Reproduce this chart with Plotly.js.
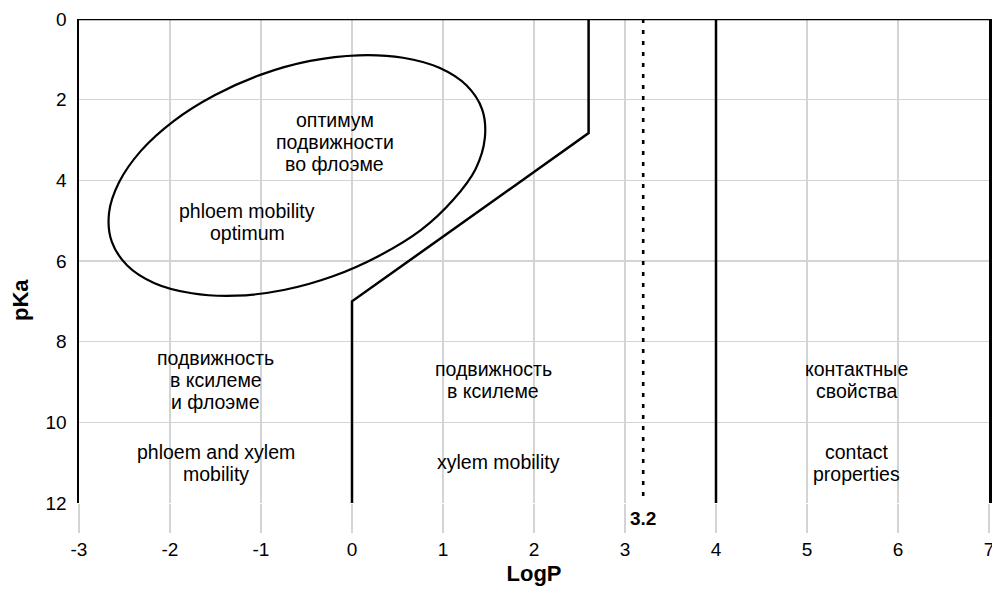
<!DOCTYPE html>
<html>
<head>
<meta charset="utf-8">
<script src="https://cdn.plot.ly/plotly-3.0.1.min.js"></script>
<style>html,body{margin:0;padding:0;background:#fff;}#chart{width:992px;height:591px;}</style>
</head>
<body>
<div id="chart"></div>
<script>
// ---- data ----
const xTickVals = [-3, -2, -1, 0, 1, 2, 3, 4, 5, 6, 7];
const yTickVals = [0, 2, 4, 6, 8, 10, 12];

// xylem / phloem boundary (LogP, pKa)
const boundaryLogP = [2.6, 2.6, 0, 0];
const boundaryPKa  = [0, 2.83, 7, 12];

// contact properties boundary
const contactLogP = [4, 4];
const contactPKa  = [0, 12];

// LogP = 3.2 threshold (dotted)
const thresholdLogP = [3.2, 3.2];
const thresholdPKa  = [0, 12];

// phloem mobility optimum contour (closed)
const optimumLogP = [1.43, 1.46, 1.36, 1.11, 0.76, 0.30, -0.21, -0.75, -1.28, -1.76, -2.17, -2.47,
                     -2.64, -2.67, -2.56, -2.32, -1.96, -1.51, -1.00, -0.46, 0.07, 0.56, 0.96, 1.26, 1.43];
const optimumPKa  = [2.24, 2.95, 3.71, 4.49, 5.23, 5.87, 6.38, 6.72, 6.86, 6.80, 6.55, 6.11,
                     5.52, 4.81, 4.05, 3.27, 2.53, 1.89, 1.38, 1.04, 0.90, 0.96, 1.21, 1.65, 2.24];

// region labels (one entry per label, lines listed top to bottom)
const labelLines = [
  ["оптимум", "подвижности", "во флоэме"],
  ["phloem mobility", "optimum"],
  ["подвижность", "в ксилеме", "и флоэме"],
  ["phloem and xylem", "mobility"],
  ["подвижность", "в ксилеме"],
  ["xylem mobility"],
  ["контактные", "свойства"],
  ["contact", "properties"]
];
const labelLogP = [-0.19, -1.15, -1.5, -1.5, 1.55, 1.61, 5.54, 5.54];
const labelPKa  = [3.05, 5.03, 8.95, 11.0, 8.95, 10.98, 8.95, 11.0];

const thresholdLabel = "3.2";
const xTitle = "LogP";
const yTitle = "pKa";

// ---- chart ----
const FONT = "Liberation Sans, Arial, sans-serif";
const LABEL_SIZE = 19.5;
const LINE_GAP = 22;
const lineStyle = {color: "#000", width: 2.5};

const traces = [
  {x: boundaryLogP, y: boundaryPKa, mode: "lines", line: lineStyle, hoverinfo: "skip"},
  {x: contactLogP, y: contactPKa, mode: "lines", line: lineStyle, hoverinfo: "skip"},
  {x: thresholdLogP, y: thresholdPKa, mode: "lines", line: {color: "#000", width: 2.6, dash: "4px,7px"}, hoverinfo: "skip"},
  {x: optimumLogP, y: optimumPKa, mode: "lines", line: {color: "#000", width: 2.2, shape: "spline", smoothing: 1}, hoverinfo: "skip"}
];

const annotations = [];
labelLines.forEach((lines, i) => {
  const n = lines.length;
  lines.forEach((t, k) => {
    annotations.push({
      x: labelLogP[i], y: labelPKa[i], xref: "x", yref: "y", text: t, showarrow: false,
      yshift: ((n - 1) / 2 - k) * LINE_GAP,
      font: {family: FONT, size: LABEL_SIZE, color: "#000"}, align: "center"
    });
  });
});
annotations.push({
  x: thresholdLogP[0], y: -0.033, xref: "x", yref: "paper", text: thresholdLabel, showarrow: false,
  xanchor: "center", yanchor: "middle",
  font: {family: FONT, size: 19, color: "#000", weight: "bold"}
});
annotations.push({
  x: -0.065, y: 0.419, xref: "paper", yref: "paper", text: yTitle, showarrow: false, textangle: -90,
  xanchor: "center", yanchor: "middle",
  font: {family: FONT, size: 22, color: "#000", weight: "bold"}
});

const layout = {
  width: 992, height: 591,
  margin: {l: 79, r: 3, t: 19, b: 88},
  paper_bgcolor: "#fff", plot_bgcolor: "#fff",
  showlegend: false,
  font: {family: FONT, size: 19, color: "#000"},
  xaxis: {
    range: [-3, 7], tickvals: xTickVals, ticktext: xTickVals.map(String),
    showgrid: true, gridcolor: "#d4d4d4", gridwidth: 1.3, zeroline: false,
    ticks: "outside", ticklen: 29, tickcolor: "#d4d4d4", tickwidth: 1.3,
    ticklabeloverflow: "allow",
    showline: false, fixedrange: true,
    title: {text: xTitle, font: {family: FONT, size: 22, weight: "bold", color: "#000"}, standoff: 6}
  },
  yaxis: {
    range: [12, 0], tickvals: yTickVals, ticktext: yTickVals.map(String),
    showgrid: true, gridcolor: "#d4d4d4", gridwidth: 1.3, zeroline: false,
    ticks: "", showline: true, mirror: true, linecolor: "#000", linewidth: 2.5,
    ticklabelstandoff: 6, fixedrange: true
  },
  shapes: [
    {type: "line", xref: "paper", yref: "y", x0: 0, x1: 1, y0: 0, y1: 0, line: {color: "#000", width: 2.5}, layer: "above"}
  ],
  annotations: annotations
};

Plotly.newPlot("chart", traces, layout, {displayModeBar: false, staticPlot: true});
</script>
</body>
</html>
